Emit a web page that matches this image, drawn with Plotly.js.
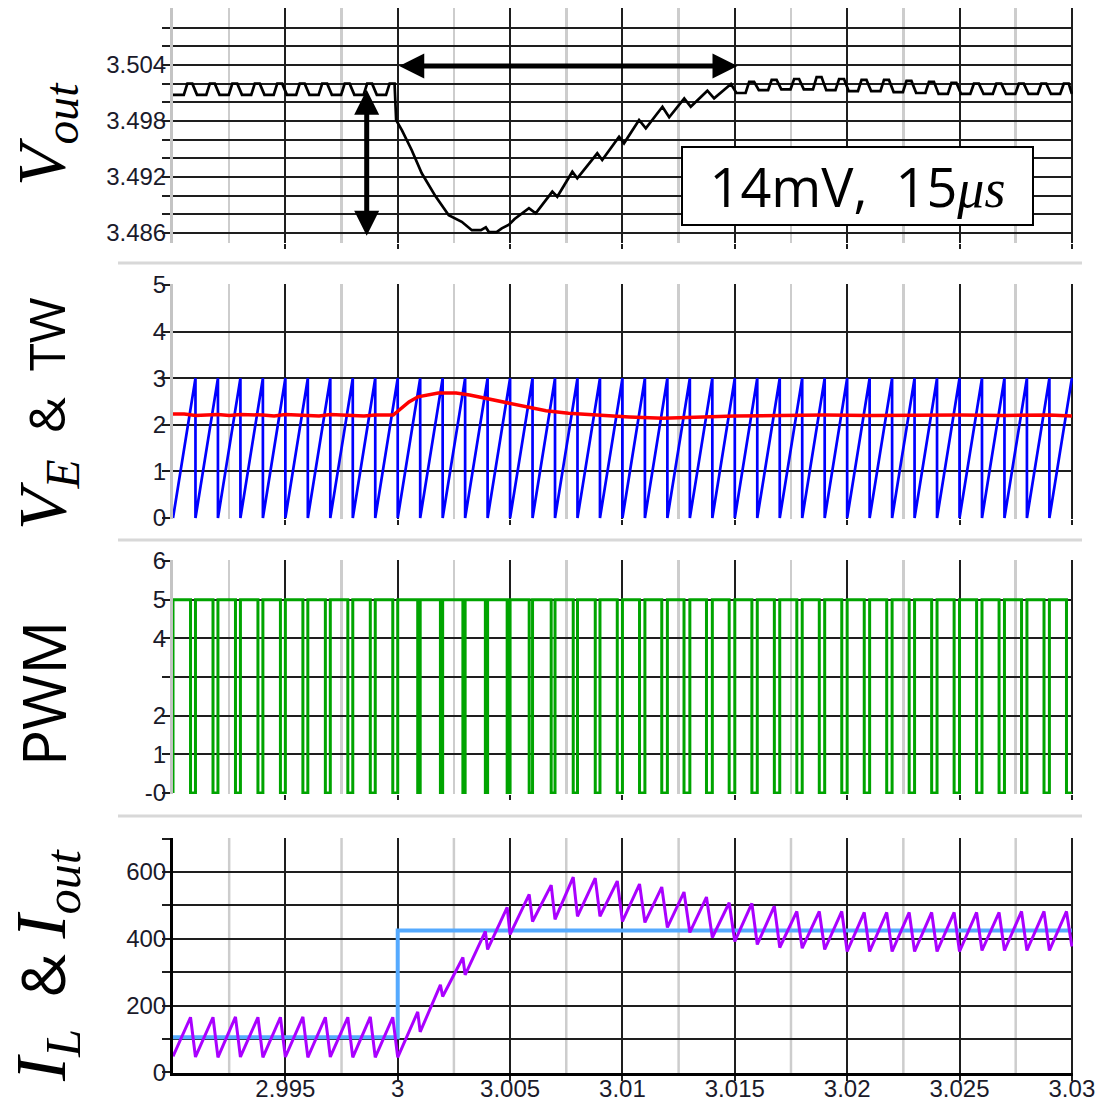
<!DOCTYPE html>
<html><head><meta charset="utf-8">
<script src="https://cdn.plot.ly/plotly-3.0.1.min.js"></script>
<style>html,body{margin:0;padding:0;background:#fff;}#chart{width:1097px;height:1105px;}</style>
</head><body><div id="chart"></div>
<script>
// ================= DATA =================
// switching cycles (ms); one cycle = 0.001
const cycleStart = [2.990,2.991,2.992,2.993,2.994,2.995,2.996,2.997,2.998,2.999,
                    3.000,3.001,3.002,3.003,3.004,3.005,3.006,3.007,3.008,3.009,
                    3.010,3.011,3.012,3.013,3.014,3.015,3.016,3.017,3.018,3.019,
                    3.020,3.021,3.022,3.023,3.024,3.025,3.026,3.027,3.028,3.029];
const cycleEnd = 3.030;

// TW sawtooth peak per cycle (V)
const twPeak = [3,3,3,3,3,3,3,3,3,3, 3,3,3,3,3,3,3,3,3,3,
                3,3,3,3,3,3,3,3,3,3, 3,3,3,3,3,3,3,3,3,3];

// PWM: high fraction of each cycle, level 5 V
const pwmDuty = [0.78,0.78,0.78,0.78,0.78,0.78,0.78,0.78,0.78,0.78,
                 0.89,0.90,0.90,0.90,0.87,0.85,0.83,0.81,0.79,0.77,
                 0.76,0.75,0.74,0.74,0.75,0.76,0.76,0.76,0.76,0.76,
                 0.76,0.76,0.76,0.76,0.76,0.76,0.76,0.76,0.76,0.76];
const pwmHighLevel = 5;
const pwmLowLevel = 0;

// inductor current I_L (mA): valley at each cycle start (+ end value), peak at PWM turn-off
const ilValley = [48,46,45,46,45,46,45,46,45,45,
                  45,121,227,292,368,413,452,458,467,467,
                  452,449,434,419,404,392,383,374,372,368,
                  362,362,362,362,362,362,365,365,365,365, 377];
const ilPeak = [165,165,166,165,165,166,165,165,166,165,
                181,262,344,422,494,533,561,585,582,573,
                564,555,540,525,508,506,498,482,482,482,
                479,479,479,479,479,479,479,482,482,482];

// load current I_out (mA)
const ioutT = [2.990, 3.000, 3.000, 3.030];
const ioutV = [105, 105, 425, 425];

// error voltage V_E (V)
const veT = [2.9900,2.9905,2.9910,2.9920,2.9925,2.9930,2.9940,2.9945,2.9950,2.9960,2.9965,2.9970,2.9980,2.9985,2.9990,2.9998,
             3.0005,3.0009,3.0018,3.0026,3.0032,3.0041,3.0050,3.0058,3.0066,3.0076,3.0088,
             3.0103,3.0118,3.0133,3.0150,3.0170,3.0190,3.0210,3.0230,3.0250,3.0270,3.0290,3.0300];
const veV = [2.23,2.23,2.20,2.22,2.20,2.22,2.21,2.19,2.22,2.21,2.19,2.22,2.21,2.19,2.21,2.21,
             2.49,2.60,2.68,2.68,2.64,2.55,2.47,2.38,2.30,2.25,2.21,
             2.17,2.14,2.17,2.19,2.20,2.21,2.20,2.21,2.21,2.20,2.21,2.19];

// V_out ripple (V): low / high level per cycle before the step (cycles 0..9)
const voutPreLow  = [3.5008,3.5008,3.5008,3.5008,3.5008,3.5008,3.5008,3.5008,3.5008,3.5008];
const voutPreHigh = [3.5020,3.5020,3.5020,3.5020,3.5020,3.5020,3.5020,3.5020,3.5020,3.5020];
// V_out transient after the load step
const voutTransT = [2.99993,3.00019,3.00062,3.00107,3.00169,3.00227,3.00285,3.00330,3.00370,3.00392,
                    3.00406,3.00440,3.00463,3.00495,3.00520,3.00584,3.00614,3.00688,3.00710,3.00777,
                    3.00799,3.00888,3.00910,3.00985,3.01007,3.01074,3.01104,3.01178,3.01208,3.01275,
                    3.01304,3.01378,3.01408,3.01483];
const voutTransV = [3.4981,3.4970,3.4949,3.4924,3.4899,3.4879,3.4872,3.4863,3.4863,3.4866,
                    3.4861,3.4861,3.4865,3.4869,3.4875,3.48865,3.48811,3.49043,3.48989,3.49257,
                    3.49186,3.49454,3.49382,3.49632,3.49561,3.49811,3.49722,3.49953,3.49840,3.50043,
                    3.49953,3.50125,3.50043,3.50196];
// V_out ripple low / high per cycle after recovery (cycles 25..39)
const voutPostLow  = [3.5010,3.5013,3.5014,3.5014,3.5013,3.5012,3.5012,3.5011,3.5010,3.5009,3.5009,3.5009,3.5009,3.5009,3.5009];
const voutPostHigh = [3.5022,3.5024,3.5025,3.5027,3.5025,3.5024,3.5024,3.5023,3.5022,3.5021,3.5020,3.5020,3.5020,3.5020,3.5020];

// annotation values
const dropTop = 3.5015, dropBottom = 3.4857, dropT = 2.99862;
const settleStart = 3.000, settleEnd = 3.01512, settleLevel = 3.5039;

// axis ticks
const xMajor = [2.995,3.000,3.005,3.010,3.015,3.020,3.025,3.030];
const xMajorText = ['2.995','3','3.005','3.01','3.015','3.02','3.025','3.03'];
const xMinor = [2.9925,2.9975,3.0025,3.0075,3.0125,3.0175,3.0225,3.0275];
const y1Labeled = [3.486,3.492,3.498,3.504];
const y1LabelText = ['3.486','3.492','3.498','3.504'];
const y1Unlabeled = [3.488,3.490,3.494,3.496,3.500,3.502,3.506,3.508];
const y2Labeled = [0,1,2,3,4,5];
const y2LabelText = ['0','1','2','3','4','5'];
const y3Labeled = [0,1,2,4,5,6];
const y3LabelText = ['-0','1','2','4','5','6'];
const y3Unlabeled = [3];
const y4Labeled = [0,200,400,600];
const y4LabelText = ['0','200','400','600'];
const y4Unlabeled = [100,300,500,700];

// ================= BUILD WAVEFORMS =================
function nextStart(k){ return k < cycleStart.length-1 ? cycleStart[k+1] : cycleEnd; }

const twX=[], twY=[];
cycleStart.forEach((s,k)=>{ twX.push(s, nextStart(k)); twY.push(0, twPeak[k]); });

const pwmX=[], pwmY=[];
cycleStart.forEach((s,k)=>{
  const off = s + pwmDuty[k]*(nextStart(k)-s);
  pwmX.push(s, s, off, off); pwmY.push(pwmLowLevel, pwmHighLevel, pwmHighLevel, pwmLowLevel);
});
pwmX.push(cycleEnd); pwmY.push(pwmLowLevel);

const ilX=[], ilY=[];
cycleStart.forEach((s,k)=>{
  ilX.push(s, s + pwmDuty[k]*(nextStart(k)-s)); ilY.push(ilValley[k], ilPeak[k]);
});
ilX.push(cycleEnd); ilY.push(ilValley[ilValley.length-1]);

const ripplePhase = [0.07, 0.48, 0.64, 0.86];
const voX=[], voY=[];
function addRipple(k, lo, hi){
  const s = cycleStart[k], T = nextStart(k)-s;
  const lv = [lo, lo, hi, hi];
  ripplePhase.forEach((f,i)=>{ voX.push(s+f*T); voY.push(lv[i]); });
}
voX.push(cycleStart[0]); voY.push(voutPreLow[0]);
for(let k=0;k<10;k++) addRipple(k, voutPreLow[k], voutPreHigh[k]);
voutTransT.forEach((t,i)=>{ voX.push(t); voY.push(voutTransV[i]); });
for(let k=25;k<40;k++) addRipple(k, voutPostLow[k-25], voutPostHigh[k-25]);
voX.push(cycleEnd); voY.push(voutPostLow[voutPostLow.length-1]);

// ================= LAYOUT =================
const W=1097, H=1105;
const fx = p => p/W;
const fy = p => 1 - p/H;
const tickFont = {family:'"Liberation Sans Narrow","Arial Narrow","Liberation Sans",Arial,sans-serif', size:24, color:'#1a1a2a'};
const GRID='#1e1e1e', MINOR='#cdcdcd';

function xAx(anchor, showLabels){
  const ax = {
    anchor: anchor, domain:[fx(173), fx(1073)], range:[2.99, 3.03005],
    tickmode:'array', tickvals:xMajor, ticktext:xMajorText, showticklabels:showLabels,
    showgrid:true, gridcolor:GRID, gridwidth:2,
    ticks:'outside', ticklen:5, tickwidth:2, tickcolor:GRID, ticklabelstandoff:-13,
    zeroline:false, showline:showLabels, linecolor:'#000', linewidth:3,
    tickfont:tickFont, fixedrange:true
  };
  if (!showLabels) ax.minor = {tickmode:'array', tickvals:xMinor, showgrid:true, gridcolor:MINOR, gridwidth:2.5, ticks:''};
  return ax;
}
function yAx(anchor, dom, range, tv, tt, minorVals, lineColor){
  const ax = {
    anchor: anchor, domain:[fy(dom[1]), fy(dom[0])], range:range,
    tickmode:'array', tickvals:tv, ticktext:tt,
    showgrid:true, gridcolor:GRID, gridwidth:2,
    ticks:'outside', ticklen:8, tickwidth:2, tickcolor:GRID, ticklabelstandoff:-9,
    zeroline:false, showline:true, linecolor:lineColor, linewidth:3,
    tickfont:tickFont, fixedrange:true
  };
  if (minorVals) ax.minor = {tickmode:'array', tickvals:minorVals, showgrid:true, gridcolor:GRID, gridwidth:2,
                             ticks:'outside', ticklen:8, tickwidth:2, tickcolor:GRID};
  return ax;
}

const serif = "'Liberation Serif','DejaVu Serif',serif";
const sans = "'Open Sans','Noto Sans',sans-serif";
function math(t, size){ return '<span style="font-family:'+serif+';font-size:'+size+'px">'+t+'</span>'; }

// separators between panels + light minor grid of the bottom panel
const shapes = [263, 540, 816].map(p=>({type:'line', xref:'paper', yref:'paper',
      x0:fx(118), x1:fx(1082), y0:fy(p), y1:fy(p), line:{color:'#d8d8d8', width:3}}))
  .concat(xMinor.map(v=>({type:'line', layer:'below', xref:'x4', yref:'y4 domain',
      x0:v, x1:v, y0:0, y1:1, line:{color:MINOR, width:2.5}})));

const layout = {
  width:W, height:H, margin:{l:0,r:0,t:0,b:0},
  paper_bgcolor:'#fff', plot_bgcolor:'#fff', showlegend:false,
  xaxis:  xAx('y', false),
  xaxis2: xAx('y2', false),
  xaxis3: xAx('y3', false),
  xaxis4: xAx('y4', true),
  yaxis:  yAx('x',  [8,243],  [3.48493,3.51011], y1Labeled, y1LabelText, y1Unlabeled, '#c4c4c4'),
  yaxis2: yAx('x2', [284,519], [-0.02,5.02], y2Labeled, y2LabelText, null, '#c4c4c4'),
  yaxis3: yAx('x3', [560,794], [-0.025,6.025], y3Labeled, y3LabelText, y3Unlabeled, '#c4c4c4'),
  yaxis4: yAx('x4', [838,1073], [-2,702], y4Labeled, y4LabelText, y4Unlabeled, '#000'),
  shapes: shapes,
  annotations: [
    {xref:'x', yref:'y', axref:'x', ayref:'y', x:dropT, y:dropBottom, ax:dropT, ay:dropTop,
     text:'', showarrow:true, arrowhead:2, startarrowhead:2, arrowside:'end+start',
     arrowwidth:5, arrowsize:1.0, startarrowsize:1.0, arrowcolor:'#000'},
    {xref:'x', yref:'y', axref:'x', ayref:'y', x:settleEnd, y:settleLevel, ax:settleStart, ay:settleLevel,
     text:'', showarrow:true, arrowhead:2, startarrowhead:2, arrowside:'end+start',
     arrowwidth:5, arrowsize:1.0, startarrowsize:1.0, arrowcolor:'#000'},
    {xref:'paper', yref:'paper', x:fx(857), y:fy(186), xanchor:'center', yanchor:'middle',
     text:'14mV,&nbsp;&nbsp;15<span style="font-family:'+serif+'"><i>μs</i></span>', showarrow:false,
     font:{family:sans, size:54, color:'#000'}, width:343, height:70, align:'center', valign:'middle',
     bgcolor:'#fff', bordercolor:'#000', borderwidth:2, borderpad:3},
    {xref:'paper', yref:'paper', x:fx(45), y:fy(134), xanchor:'center', yanchor:'middle', textangle:-90, showarrow:false,
     text:'<i>V</i><sub><i>out</i></sub>', font:{family:serif, size:68, color:'#000'}},
    {xref:'paper', yref:'paper', x:fx(46), y:fy(414), xanchor:'center', yanchor:'middle', textangle:-90, showarrow:false,
     text:math('<i>V</i><sub><i>E</i></sub>', 68)+'&nbsp;&nbsp;&amp;&nbsp;&nbsp;TW', font:{family:sans, size:50, color:'#000'}},
    {xref:'paper', yref:'paper', x:fx(43), y:fy(694), xanchor:'center', yanchor:'middle', textangle:-90, showarrow:false,
     text:'PWM', font:{family:sans, size:60, color:'#000'}},
    {xref:'paper', yref:'paper', x:fx(46), y:fy(965), xanchor:'center', yanchor:'middle', textangle:-90, showarrow:false,
     text:math('<i>I</i><sub><i>L</i></sub>', 72)+'&nbsp;&nbsp;&amp;&nbsp;'+math('<i>I</i><sub><i>out</i></sub>', 72), font:{family:sans, size:60, color:'#000'}}
  ]
};

const traces = [
  {x:voX, y:voY, xaxis:'x', yaxis:'y', type:'scatter', mode:'lines', line:{color:'#000', width:2.7}, hoverinfo:'skip'},
  {x:twX, y:twY, xaxis:'x2', yaxis:'y2', type:'scatter', mode:'lines', line:{color:'#0000ff', width:2.7}, hoverinfo:'skip'},
  {x:veT, y:veV, xaxis:'x2', yaxis:'y2', type:'scatter', mode:'lines', line:{color:'#ff0000', width:3.5}, hoverinfo:'skip'},
  {x:pwmX, y:pwmY, xaxis:'x3', yaxis:'y3', type:'scatter', mode:'lines', line:{color:'#00a400', width:3}, hoverinfo:'skip'},
  {x:ioutT, y:ioutV, xaxis:'x4', yaxis:'y4', type:'scatter', mode:'lines', line:{color:'#55aaff', width:4}, hoverinfo:'skip'},
  {x:ilX, y:ilY, xaxis:'x4', yaxis:'y4', type:'scatter', mode:'lines', line:{color:'#aa00ff', width:3}, hoverinfo:'skip'}
];

Plotly.newPlot('chart', traces, layout, {staticPlot:true, displayModeBar:false});
</script>
</body></html>
